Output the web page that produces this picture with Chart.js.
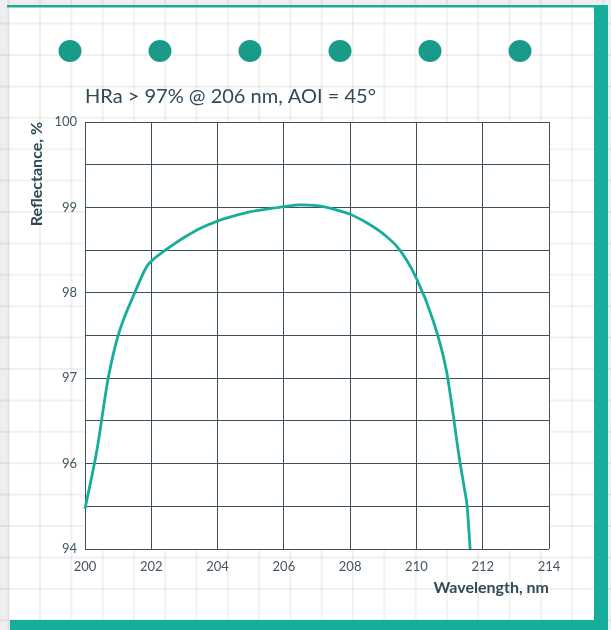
<!DOCTYPE html>
<html>
<head>
<meta charset="utf-8">
<script src="https://cdn.jsdelivr.net/npm/chart.js@4"></script>
<style>
  html, body { margin: 0; padding: 0; background: #efefef; }
  #wrap { position: relative; width: 611px; height: 630px; }
  canvas { display: block; }
</style>
</head>
<body>
<div id="wrap"><canvas id="c" width="611" height="630"></canvas></div>
<script>
// ---- data ----
const titleText = 'HRa > 97% @ 206 nm, AOI = 45°';
const xTitle = 'Wavelength, nm';
const yTitle = 'Reflectance, %';
const wavelengths = [200.0, 200.36, 200.7, 201.0, 201.5, 201.85, 202.0, 202.5, 203.0, 203.5, 204.0, 204.5, 205.0, 205.5, 206.0, 206.5, 207.0, 207.5, 208.0, 208.5, 209.0, 209.5, 210.0, 210.5, 210.9, 211.1, 211.28, 211.45, 211.53, 211.62];
const reflectance = [95.47, 96.16, 97.0, 97.5, 98.0, 98.3, 98.37, 98.52, 98.65, 98.76, 98.84, 98.9, 98.95, 98.98, 99.01, 99.03, 99.02, 98.98, 98.92, 98.82, 98.69, 98.5, 98.17, 97.68, 97.1, 96.6, 96.1, 95.7, 95.5, 95.0];
// labelled y ticks (position) and the text printed at each, as in the source
const yTickValues = [100, 99, 98, 97, 96, 95];
const yTickLabels = ['100', '99', '98', '97', '96', '94'];
const xRange = [200, 214];
const yRange = [95, 100];

const TEAL = '#16ae9a';
const DOT = '#1a9b8a';
const INK = '#2f4a56';
const GRID = '#3b525d';

const decor = {
  id: 'decor',
  beforeDraw(chart) {
    const ctx = chart.ctx;
    const W = chart.width, H = chart.height;
    ctx.save();
    ctx.fillStyle = '#eeeeee';
    ctx.fillRect(0, 0, W, H);
    ctx.fillStyle = '#ffffff';
    ctx.fillRect(9, 7, 585, 613);
    ctx.strokeStyle = 'rgba(0,0,0,0.055)';
    ctx.lineWidth = 2;
    for (let x = 8.7; x < W; x += 31.3) {
      ctx.beginPath(); ctx.moveTo(x, 0); ctx.lineTo(x, H); ctx.stroke();
    }
    for (let y = 23.6; y < H; y += 31.4) {
      ctx.beginPath(); ctx.moveTo(0, y); ctx.lineTo(W, y); ctx.stroke();
    }
    ctx.fillStyle = TEAL;
    ctx.fillRect(7, 5, 590, 2.5);
    ctx.fillRect(594, 5, 14, 625);
    ctx.fillRect(10, 620, 598, 10);
    ctx.fillStyle = DOT;
    [70, 160, 250, 340, 430, 520].forEach(cx => {
      ctx.beginPath(); ctx.ellipse(cx, 51, 11.5, 11, 0, 0, Math.PI * 2); ctx.fill();
    });
    const a = chart.chartArea;
    ctx.fillStyle = '#ffffff';
    ctx.fillRect(a.left, a.top, a.right - a.left, a.bottom - a.top);
    ctx.restore();
  }
};

new Chart(document.getElementById('c'), {
  type: 'line',
  data: {
    datasets: [{
      data: wavelengths.map((w, i) => ({ x: w, y: reflectance[i] })),
      borderColor: TEAL,
      borderWidth: 2.8,
      pointRadius: 0,
      fill: false,
      cubicInterpolationMode: 'monotone',
      clip: false
    }]
  },
  options: {
    responsive: false,
    animation: false,
    devicePixelRatio: 1,
    layout: { padding: { left: 0, right: 62, top: 0, bottom: 0 } },
    plugins: {
      legend: { display: false },
      tooltip: { enabled: false },
      title: {
        display: true,
        text: titleText,
        align: 'start',
        fullSize: false,
        color: INK,
        font: { family: 'Lato', size: 20, weight: 'normal', lineHeight: 1.2 },
        padding: { top: 85, bottom: 13 }
      }
    },
    scales: {
      x: {
        type: 'linear',
        min: xRange[0], max: xRange[1],
        afterFit(s) { s.height = 81; },
        border: { display: false },
        grid: { color: GRID, lineWidth: 1, drawTicks: false },
        ticks: {
          stepSize: 2, padding: 10, color: '#435660',
          font: { family: 'Lato', size: 13 },
          maxRotation: 0
        },
        title: {
          display: true, text: xTitle, align: 'end', color: INK,
          font: { family: 'Lato', size: 16, weight: 'bold', lineHeight: 1.2 },
          padding: { top: 0, bottom: 32.4 }
        }
      },
      y: {
        type: 'linear',
        min: yRange[0], max: yRange[1],
        afterFit(s) { s.width = 85; },
        border: { display: false },
        grid: { color: GRID, lineWidth: 1, drawTicks: false },
        ticks: {
          stepSize: 0.5, padding: 8, color: '#435660',
          font: { family: 'Lato', size: 13 },
          callback: v => {
            const i = yTickValues.indexOf(v);
            return i >= 0 ? yTickLabels[i] : '';
          }
        },
        title: {
          display: true, text: yTitle, align: 'end', color: INK,
          font: { family: 'Lato', size: 16, weight: 'bold', lineHeight: 1.2 },
          padding: { top: 27.4, bottom: 0 }
        }
      }
    }
  },
  plugins: [decor]
});
</script>
</body>
</html>
